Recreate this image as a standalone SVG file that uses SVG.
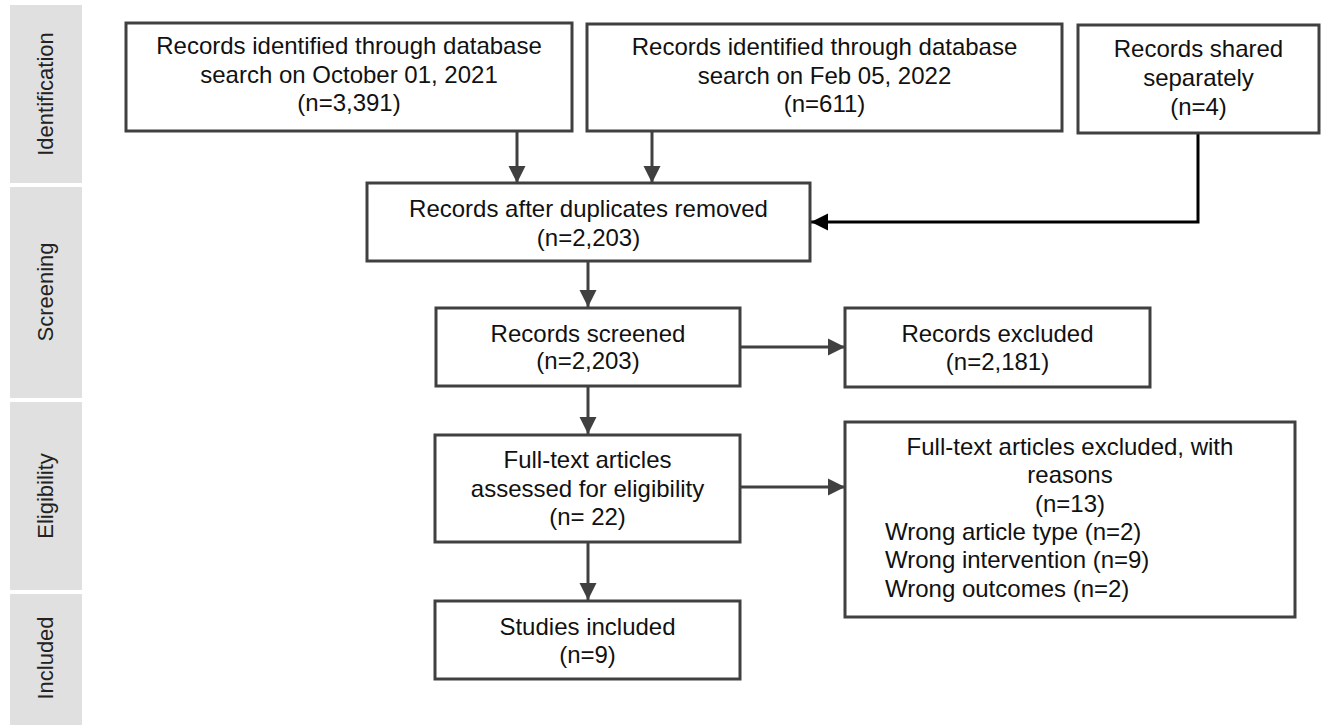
<svg xmlns="http://www.w3.org/2000/svg" width="1323" height="725" viewBox="0 0 1323 725">
<style>
  .band { fill: #e0e0e0; }
  .bandtxt { font-family: "Liberation Sans", Arial, sans-serif; font-size: 22px; fill: #222; text-anchor: middle; }
  .box { fill: #fff; stroke: #404040; stroke-width: 3; }
  .t { font-family: "Liberation Sans", Arial, sans-serif; font-size: 24px; fill: #111; text-anchor: middle; }
  .tl { font-family: "Liberation Sans", Arial, sans-serif; font-size: 24px; fill: #111; text-anchor: start; }
  .conn { fill: none; stroke: #404040; stroke-width: 3; }
  .connk { fill: none; stroke: #000; stroke-width: 3; }
</style>
<defs>
  <marker id="ah" markerUnits="userSpaceOnUse" markerWidth="18" markerHeight="18" refX="17" refY="9" orient="auto">
    <path d="M0,0.5 L17,9 L0,17.5 z" fill="#404040"/>
  </marker>
  <marker id="ahk" markerUnits="userSpaceOnUse" markerWidth="18" markerHeight="18" refX="17" refY="9" orient="auto">
    <path d="M0,0.5 L17,9 L0,17.5 z" fill="#000"/>
  </marker>
</defs>
<rect width="1323" height="725" fill="#fff"/>

<g id="phases">
  <g id="phase-identification">
    <rect class="band" x="10" y="5" width="72" height="178"/>
    <text class="bandtxt" transform="translate(53,94) rotate(-90)">Identification</text>
  </g>
  <g id="phase-screening">
    <rect class="band" x="10" y="187" width="72" height="211"/>
    <text class="bandtxt" transform="translate(53,292) rotate(-90)">Screening</text>
  </g>
  <g id="phase-eligibility">
    <rect class="band" x="10" y="402" width="72" height="188"/>
    <text class="bandtxt" transform="translate(53,496) rotate(-90)">Eligibility</text>
  </g>
  <g id="phase-included">
    <rect class="band" x="10" y="594" width="72" height="131"/>
    <text class="bandtxt" transform="translate(53,658) rotate(-90)">Included</text>
  </g>
</g>

<g id="connectors">
  <line class="conn" x1="517" y1="132" x2="517" y2="183" marker-end="url(#ah)"/>
  <line class="conn" x1="652" y1="132" x2="652" y2="183" marker-end="url(#ah)"/>
  <path class="connk" d="M1198,133 V222 H811" marker-end="url(#ahk)"/>
  <line class="conn" x1="588" y1="261" x2="588" y2="307" marker-end="url(#ah)"/>
  <line class="conn" x1="741" y1="347" x2="845" y2="347" marker-end="url(#ah)"/>
  <line class="conn" x1="588" y1="387" x2="588" y2="434" marker-end="url(#ah)"/>
  <line class="conn" x1="741" y1="487" x2="845" y2="487" marker-end="url(#ah)"/>
  <line class="conn" x1="588" y1="543" x2="588" y2="600" marker-end="url(#ah)"/>
</g>

<g id="n1">
  <rect class="box" x="126" y="23" width="446" height="108"/>
  <text class="t" x="349" y="54">Records identified through database</text>
  <text class="t" x="349" y="82.5">search on October 01, 2021</text>
  <text class="t" x="349" y="111">(n=3,391)</text>
</g>
<g id="n2">
  <rect class="box" x="587" y="24" width="475" height="107"/>
  <text class="t" x="824.5" y="55">Records identified through database</text>
  <text class="t" x="824.5" y="83.5">search on Feb 05, 2022</text>
  <text class="t" x="824.5" y="112">(n=611)</text>
</g>
<g id="n3">
  <rect class="box" x="1078" y="25" width="241" height="108"/>
  <text class="t" x="1198.5" y="57">Records shared</text>
  <text class="t" x="1198.5" y="86">separately</text>
  <text class="t" x="1198.5" y="115">(n=4)</text>
</g>
<g id="n4">
  <rect class="box" x="367" y="183" width="443" height="78"/>
  <text class="t" x="588.5" y="217">Records after duplicates removed</text>
  <text class="t" x="588.5" y="246">(n=2,203)</text>
</g>
<g id="n5">
  <rect class="box" x="436" y="308" width="304" height="78"/>
  <text class="t" x="588" y="342">Records screened</text>
  <text class="t" x="588" y="369">(n=2,203)</text>
</g>
<g id="n6">
  <rect class="box" x="845" y="308" width="305" height="79"/>
  <text class="t" x="997.5" y="342">Records excluded</text>
  <text class="t" x="997.5" y="370">(n=2,181)</text>
</g>
<g id="n7">
  <rect class="box" x="435" y="435" width="305" height="107"/>
  <text class="t" x="587.5" y="468">Full-text articles</text>
  <text class="t" x="587.5" y="497">assessed for eligibility</text>
  <text class="t" x="587.5" y="525">(n= 22)</text>
</g>
<g id="n8">
  <rect class="box" x="845" y="422" width="450" height="195"/>
  <text class="t" x="1070" y="455">Full-text articles excluded, with</text>
  <text class="t" x="1070" y="483">reasons</text>
  <text class="t" x="1070" y="512">(n=13)</text>
  <text class="tl" x="885" y="540">Wrong article type (n=2)</text>
  <text class="tl" x="885" y="568">Wrong intervention (n=9)</text>
  <text class="tl" x="885" y="597">Wrong outcomes (n=2)</text>
</g>
<g id="n9">
  <rect class="box" x="435" y="601" width="305" height="78"/>
  <text class="t" x="587.5" y="635">Studies included</text>
  <text class="t" x="587.5" y="663">(n=9)</text>
</g>
</svg>
